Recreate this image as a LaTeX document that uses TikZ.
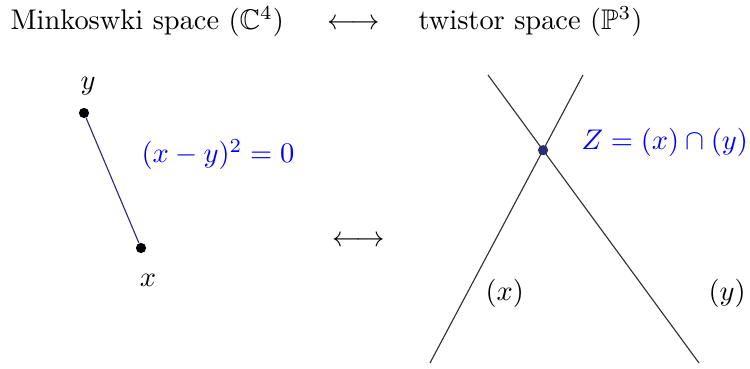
\documentclass[tikz,border=0pt]{standalone}
\usepackage{amsmath,amssymb}
\usepackage{tikz}
\usetikzlibrary{arrows.meta}
\usepackage{xcolor}
\definecolor{navyline}{RGB}{45,45,115}
\definecolor{darkline}{RGB}{50,50,50}

\tikzset{
  pointdot/.style={circle,fill,inner sep=0pt,minimum size=3.6pt},
  bluelabel/.style={text=blue}
}

\begin{document}
\begin{tikzpicture}[x=0.352pt,y=-0.352pt]
		\useasboundingbox (0,0) rectangle (750,369);
		
		%--- Header: the two spaces ---
		\node[anchor=base west,inner sep=0pt] (mink) at (10,30) {Minkoswki space $(\mathbb{C}^{4})$};
		\node[anchor=base,inner sep=0pt] (toparrow) at (354,30) {$\longleftrightarrow$};
		\node[anchor=base west,inner sep=0pt] (twist) at (418,30) {twistor space $(\mathbb{P}^{3})$};
		
		%--- Minkowski side: two null separated points ---
		\begin{scope}
			% Points
			\node[pointdot] (pty) at (84,113) {};
			\node[pointdot] (ptx) at (141,248) {};
			\draw[navyline] (pty) -- (ptx);
			
			% Labels
			\node[anchor=base,inner sep=0pt] (laby) at (88,90) {$y$};
			\node[anchor=base,inner sep=0pt] (labx) at (148,287) {$x$};
			\node[bluelabel,anchor=base west,inner sep=0pt] (null) at (141,163) {$(x-y)^{2}=0$};
		\end{scope}
		
		\node[anchor=base,inner sep=0pt] (midarrow) at (359,247) {$\longleftrightarrow$};
		
		%--- Twistor side: two intersecting lines ---
		\begin{scope}
			% Lines
			\coordinate (xa) at (430,363);
			\coordinate (xb) at (583,75);
			\coordinate (ya) at (488,75);
			\coordinate (yb) at (699,363);
			\draw[darkline] (xa) -- (xb);
			\draw[darkline] (ya) -- (yb);
			
			% Intersection point
			\node[pointdot,fill=navyline] (zpt) at (intersection of xa--xb and ya--yb) {};
			
			% Labels
			\node[bluelabel,anchor=base west,inner sep=0pt] (zlab) at (581,150) {$Z=(x)\cap(y)$};
			\node[anchor=base west,inner sep=0pt] (linex) at (485,301) {$(x)$};
			\node[anchor=base west,inner sep=0pt] (liney) at (708,301) {$(y)$};
		\end{scope}
		
	\end{tikzpicture}
\end{document}
